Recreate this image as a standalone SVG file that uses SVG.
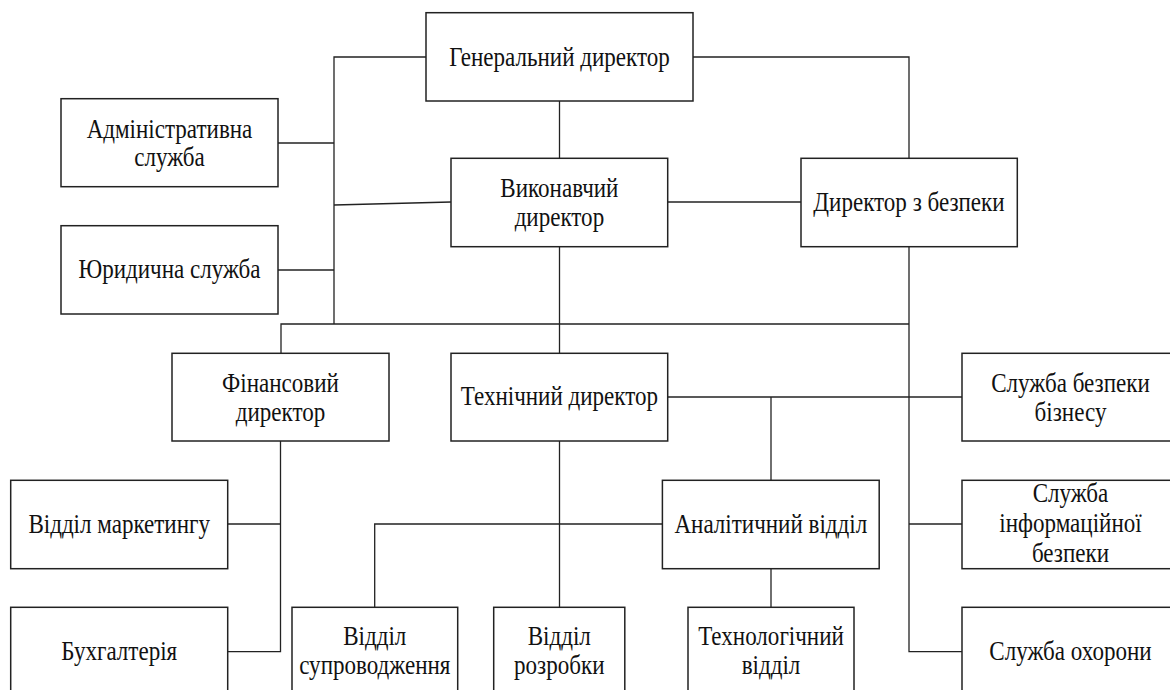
<svg xmlns="http://www.w3.org/2000/svg" width="1170" height="690" viewBox="0 0 1170 690">
<style>
.box{fill:#fff;stroke:#222;stroke-width:1.5}
.ln{fill:none;stroke:#222;stroke-width:1.3}
.t{font-family:"Liberation Serif","Times New Roman",serif;font-size:26.5px;fill:#111;text-anchor:middle}
</style>
<rect width="1170" height="690" fill="#fff"/>
<g id="connectors">
<path class="ln" d="M426 57H334V324"/>
<path class="ln" d="M278 143H334"/>
<path class="ln" d="M278 270H334"/>
<path class="ln" d="M334 205L451 202"/>
<path class="ln" d="M559.5 101V158.3"/>
<path class="ln" d="M559.5 246.7V353.3"/>
<path class="ln" d="M281 353.3V324H909"/>
<path class="ln" d="M693 57H909V158.3"/>
<path class="ln" d="M668 202H801"/>
<path class="ln" d="M909 246.7V651.7H962"/>
<path class="ln" d="M909 524H962"/>
<path class="ln" d="M668 397H962"/>
<path class="ln" d="M771 397V480.3"/>
<path class="ln" d="M280.5 441V651.7H227.7"/>
<path class="ln" d="M227.7 524H280.5"/>
<path class="ln" d="M559.5 441V607.3"/>
<path class="ln" d="M374.7 607.3V524H662.4"/>
<path class="ln" d="M771 568.7V607.3"/>
</g>
<g id="ceo"><rect class="box" x="426" y="12.7" width="267" height="88.3"/>
<text class="t" transform="translate(559.5 66) scale(0.87 1)">Генеральний директор</text></g>
<g id="admin"><rect class="box" x="61" y="98.7" width="217" height="88"/>
<text class="t" transform="translate(169.5 137.5) scale(0.87 1)">Адміністративна</text>
<text class="t" transform="translate(169.5 166) scale(0.87 1)">служба</text></g>
<g id="legal"><rect class="box" x="61" y="225.7" width="217" height="88.3"/>
<text class="t" transform="translate(169.5 278) scale(0.87 1)">Юридична служба</text></g>
<g id="exec"><rect class="box" x="451" y="158.3" width="216.7" height="88.4"/>
<text class="t" transform="translate(559.4 197) scale(0.87 1)">Виконавчий</text>
<text class="t" transform="translate(559.4 226) scale(0.87 1)">директор</text></g>
<g id="secdir"><rect class="box" x="801" y="158.3" width="216.3" height="88.4"/>
<text class="t" transform="translate(909 211) scale(0.87 1)">Директор з безпеки</text></g>
<g id="fin"><rect class="box" x="172" y="353.3" width="217" height="87.7"/>
<text class="t" transform="translate(280.5 392) scale(0.87 1)">Фінансовий</text>
<text class="t" transform="translate(280.5 421) scale(0.87 1)">директор</text></g>
<g id="tech"><rect class="box" x="451" y="353.3" width="216.7" height="87.7"/>
<text class="t" transform="translate(559.4 405) scale(0.87 1)">Технічний директор</text></g>
<g id="svc1"><rect class="box" x="962" y="353.3" width="217" height="87.7"/>
<text class="t" transform="translate(1070.5 392) scale(0.87 1)">Служба безпеки</text>
<text class="t" transform="translate(1070.5 421) scale(0.87 1)">бізнесу</text></g>
<g id="marketing"><rect class="box" x="10.7" y="480.3" width="217" height="88.4"/>
<text class="t" transform="translate(119.2 532.5) scale(0.87 1)">Відділ маркетингу</text></g>
<g id="analytic"><rect class="box" x="662.4" y="480.3" width="216.8" height="88.4"/>
<text class="t" transform="translate(770.8 532.5) scale(0.87 1)">Аналітичний відділ</text></g>
<g id="svc2"><rect class="box" x="962" y="480.3" width="217" height="88.4"/>
<text class="t" transform="translate(1070.5 502) scale(0.87 1)">Служба</text>
<text class="t" transform="translate(1070.5 532) scale(0.87 1)">інформаційної</text>
<text class="t" transform="translate(1070.5 561.5) scale(0.87 1)">безпеки</text></g>
<g id="accounting"><rect class="box" x="10.7" y="607.3" width="217" height="88"/>
<text class="t" transform="translate(119.2 659.5) scale(0.87 1)">Бухгалтерія</text></g>
<g id="support"><rect class="box" x="292" y="607.3" width="165.7" height="88"/>
<text class="t" transform="translate(374.8 645) scale(0.87 1)">Відділ</text>
<text class="t" transform="translate(374.8 674) scale(0.87 1)">супроводження</text></g>
<g id="dev"><rect class="box" x="493.7" y="607.3" width="131.1" height="88"/>
<text class="t" transform="translate(559.3 645) scale(0.87 1)">Відділ</text>
<text class="t" transform="translate(559.3 674) scale(0.87 1)">розробки</text></g>
<g id="techdept"><rect class="box" x="688" y="607.3" width="166" height="88"/>
<text class="t" transform="translate(771 645) scale(0.87 1)">Технологічний</text>
<text class="t" transform="translate(771 674) scale(0.87 1)">відділ</text></g>
<g id="svc3"><rect class="box" x="962" y="607.3" width="217" height="88"/>
<text class="t" transform="translate(1070.5 660) scale(0.87 1)">Служба охорони</text></g>
</svg>
